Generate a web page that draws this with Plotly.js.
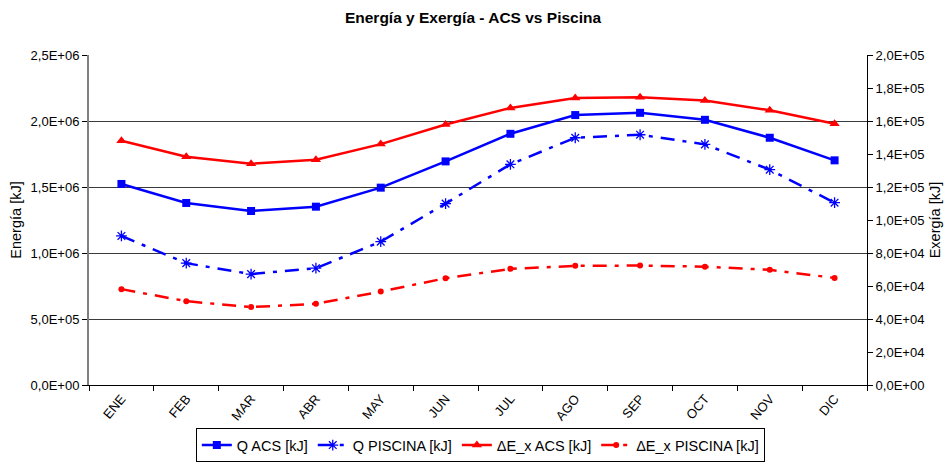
<!DOCTYPE html>
<html>
<head>
<meta charset="utf-8">
<script src="https://cdn.plot.ly/plotly-3.0.1.min.js"></script>
<style>
  html, body { margin: 0; padding: 0; background: #fff; }
  #chart { width: 946px; height: 464px; }
</style>
</head>
<body>
<div id="chart"></div>
<script>
// Monthly energy (left axis) and exergy (right axis), kJ
const months = ["ENE", "FEB", "MAR", "ABR", "MAY", "JUN", "JUL", "AGO", "SEP", "OCT", "NOV", "DIC"];
const qAcs = [1.523e6, 1.379e6, 1.318e6, 1.351e6, 1.495e6, 1.694e6, 1.903e6, 2.045e6, 2.062e6, 2.009e6, 1.873e6, 1.702e6];
const qPiscina = [1.129e6, 0.923e6, 0.840e6, 0.885e6, 1.086e6, 1.374e6, 1.672e6, 1.873e6, 1.896e6, 1.823e6, 1.631e6, 1.381e6];
const exAcs = [1.480e5, 1.383e5, 1.341e5, 1.365e5, 1.460e5, 1.579e5, 1.679e5, 1.740e5, 1.744e5, 1.724e5, 1.665e5, 1.583e5];
const exPiscina = [5.81e4, 5.08e4, 4.72e4, 4.92e4, 5.66e4, 6.47e4, 7.04e4, 7.22e4, 7.24e4, 7.17e4, 6.98e4, 6.49e4];

const leftTickVals = [0, 5e5, 1e6, 1.5e6, 2e6, 2.5e6];
const leftTickText = ["0,0E+00", "5,0E+05", "1,0E+06", "1,5E+06", "2,0E+06", "2,5E+06"];
const rightTickVals = [0, 2e4, 4e4, 6e4, 8e4, 1e5, 1.2e5, 1.4e5, 1.6e5, 1.8e5, 2e5];
const rightTickText = ["0,0E+00", "2,0E+04", "4,0E+04", "6,0E+04", "8,0E+04", "1,0E+05",
                       "1,2E+05", "1,4E+05", "1,6E+05", "1,8E+05", "2,0E+05"];

const FONT = "Arial, 'Liberation Sans', sans-serif";
const BLUE = "#0000FF";
const RED = "#FF0000";

const traces = [
  {
    x: months, y: qAcs, name: "Q ACS [kJ]", type: "scatter", mode: "lines+markers",
    line: { color: BLUE, width: 2.5 },
    marker: { symbol: "square", size: 8, color: BLUE }
  },
  {
    x: months, y: qPiscina, name: "Q PISCINA [kJ]", type: "scatter", mode: "lines+markers",
    line: { color: BLUE, width: 2.5, dash: "14px,8px,4px,8px" },
    marker: { symbol: "asterisk-open", size: 9, color: BLUE, line: { color: BLUE, width: 1.3 } }
  },
  {
    x: months, y: exAcs, name: "ΔE_x ACS [kJ]", type: "scatter", mode: "lines+markers", yaxis: "y2",
    line: { color: RED, width: 2.5 },
    marker: { symbol: "triangle-up", size: 9, color: RED }
  },
  {
    x: months, y: exPiscina, name: "ΔE_x PISCINA [kJ]", type: "scatter", mode: "lines+markers", yaxis: "y2",
    line: { color: RED, width: 2.5, dash: "14px,8px,4px,8px" },
    marker: { symbol: "circle", size: 6, color: RED }
  }
];

const layout = {
  width: 946, height: 464,
  margin: { l: 89, r: 79, t: 55, b: 79, pad: 0, autoexpand: false },
  paper_bgcolor: "#fff", plot_bgcolor: "#fff",
  font: { family: FONT, size: 13, color: "#000" },
  showlegend: true,
  title: {
    text: "<b>Energía y Exergía - ACS vs Piscina</b>",
    font: { family: FONT, size: 15.5, color: "#000" },
    x: 0.5, xanchor: "center", y: 0.963, yanchor: "middle"
  },
  xaxis: {
    type: "category", automargin: false,
    tickson: "boundaries", ticks: "outside", ticklen: 5, tickcolor: "#000",
    tickangle: -50,
    tickfont: { family: FONT, size: 13, color: "#000" },
    showgrid: false, zeroline: false,
    showline: true, linecolor: "#000", linewidth: 1,
    range: [-0.5, 11.5]
  },
  yaxis: {
    range: [0, 2.5e6], automargin: false,
    tickvals: leftTickVals, ticktext: leftTickText,
    ticks: "outside", ticklen: 5, tickcolor: "#000",
    tickfont: { family: FONT, size: 13, color: "#000" },
    showgrid: true, gridcolor: "#3a3a3a", gridwidth: 1,
    zeroline: false,
    showline: true, linecolor: "#7f7f7f", linewidth: 2,
    title: { text: "Energía [kJ]", font: { family: FONT, size: 14.5, color: "#000" }, standoff: 6 }
  },
  yaxis2: {
    overlaying: "y", side: "right", automargin: false,
    range: [0, 2e5],
    tickvals: rightTickVals, ticktext: rightTickText,
    ticks: "outside", ticklen: 5, tickcolor: "#000",
    tickfont: { family: FONT, size: 13, color: "#000" },
    showgrid: false, zeroline: false,
    showline: true, linecolor: "#000", linewidth: 1,
    title: { text: "Exergía [kJ]", font: { family: FONT, size: 14.5, color: "#000" }, standoff: 6 }
  },
  legend: {
    orientation: "h",
    x: 0.503, xanchor: "center",
    yref: "container", y: 0.004, yanchor: "bottom",
    font: { family: FONT, size: 14.5, color: "#000" },
    bordercolor: "#000", borderwidth: 1, bgcolor: "#fff",
    itemwidth: 30, tracegroupgap: 0
  }
};

Plotly.newPlot("chart", traces, layout, { displayModeBar: false, staticPlot: true });
</script>
</body>
</html>
